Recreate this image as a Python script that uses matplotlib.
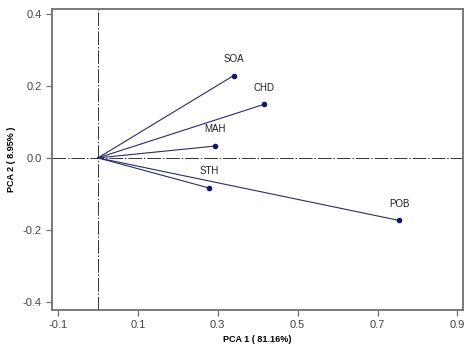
import matplotlib
matplotlib.use('Agg')
from matplotlib import pyplot as plt
import numpy as np

plt.rcParams['font.family'] = ['Liberation Sans', 'DejaVu Sans']

# loadings
names = ['SOA', 'CHD', 'MAH', 'STH', 'POB']
pc1 = [0.340, 0.416, 0.294, 0.279, 0.754]
pc2 = [0.229, 0.149, 0.033, -0.084, -0.174]

xticks = [-0.1, 0.1, 0.3, 0.5, 0.7, 0.9]
yticks = [-0.4, -0.2, 0.0, 0.2, 0.4]

fig = plt.figure(figsize=(4.74, 3.55), dpi=100)
ax = fig.add_axes([0.1097, 0.1268, 0.868, 0.8478])

# reference lines through origin
ax.axhline(0, color='#333333', lw=0.7, ls=(0, (14, 2, 1.5, 2)), zorder=1)
ax.axvline(0, color='#333333', lw=0.7, ls=(0, (14, 2, 1.5, 2)), zorder=1)

for name, x, y in zip(names, pc1, pc2):
    ax.plot([0, x], [0, y], color='#2b2b6b', lw=0.8, zorder=2)
    ax.plot(x, y, 'o', color='#14146e', ms=3, zorder=3)
    ax.annotate(name, (x, y), xytext=(0, 8.5), textcoords='offset points',
                ha='center', va='bottom', fontsize=7, color='#222222')

ax.set_xlim(-0.115, 0.915)
ax.set_ylim(-0.423, 0.414)
ax.set_xticks(xticks)
ax.set_xticklabels(['%.1f' % t for t in xticks])
ax.set_yticks(yticks)
ax.set_yticklabels(['%.1f' % t for t in yticks])
ax.tick_params(direction='out', length=4, width=0.9, color='#707070',
               labelsize=8, labelcolor='#444444')
for s in ax.spines.values():
    s.set_color('#707070')
    s.set_linewidth(1.3)

ax.set_xlabel('PCA 1 ( 81.16%)', fontsize=6.5, fontweight='bold', labelpad=3)
ax.set_ylabel('PCA 2 ( 8.95% )', fontsize=6.5, fontweight='bold', labelpad=5)

fig.savefig('out.png', dpi=100)
